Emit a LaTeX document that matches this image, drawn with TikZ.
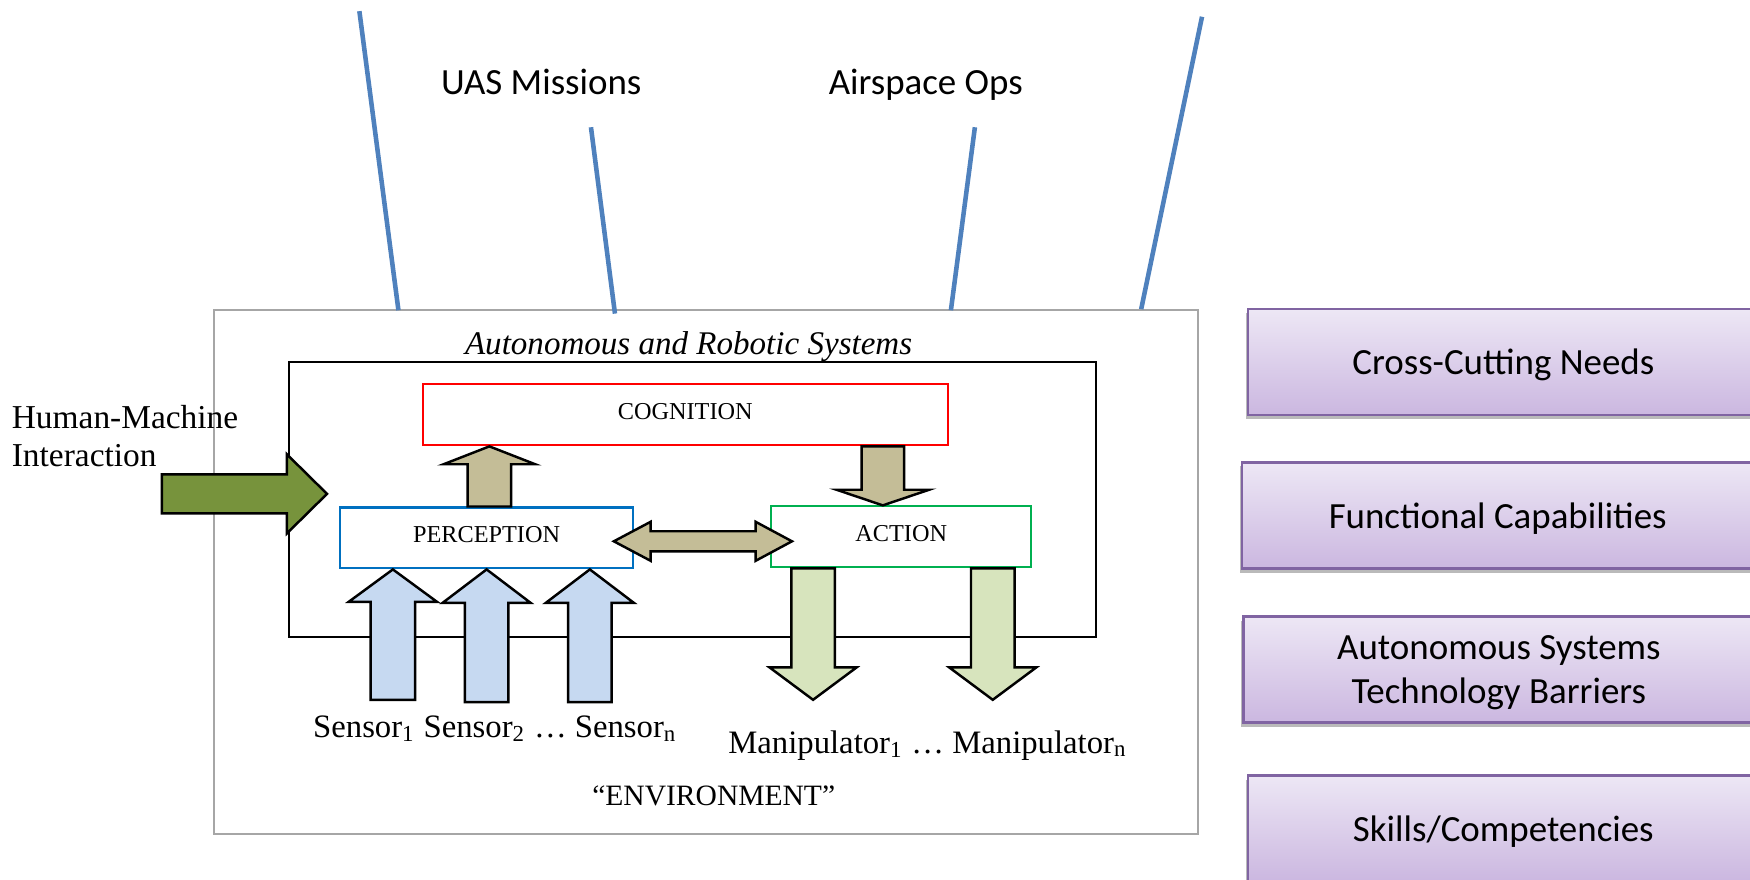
\documentclass[tikz,border=0pt]{standalone}
\usepackage{fontspec}
\setmainfont{Liberation Serif}
\newfontfamily\calib{Carlito}
\usetikzlibrary{calc,shadows}
\definecolor{bline}{HTML}{4F81BD}
\definecolor{outergray}{HTML}{A6A6A6}
\definecolor{percblue}{HTML}{0070C0}
\definecolor{actgreen}{HTML}{00B050}
\definecolor{tan}{HTML}{C4BD97}
\definecolor{hmigreen}{HTML}{77933C}
\definecolor{sensblue}{HTML}{C6D9F1}
\definecolor{manipgreen}{HTML}{D7E4BD}
\definecolor{purpborder}{HTML}{8064A2}
\definecolor{purptop}{HTML}{EDE7F5}
\definecolor{purpbot}{HTML}{CBB7E0}
\def\U{0.011161cm}
\newcommand{\vblk}[6]{% fill, base, tip, shaft hw, head hw, head offset (tip to head base)
  \filldraw[blockarrow, fill=#1] ($(#2)+(-#4,0)$) -- ($(#3)+(-#4,#6)$) -- ($(#3)+(-#5,#6)$) -- (#3)
    -- ($(#3)+(#5,#6)$) -- ($(#3)+(#4,#6)$) -- ($(#2)+(#4,0)$) -- cycle;}
\begin{document}
\begin{tikzpicture}[x=0.011161cm, y=-0.011161cm,
  bluelink/.style={draw=bline, line width=1.3pt},
  framebox/.style={draw, inner sep=0pt, line width=0.6pt},
  stagebox/.style={draw, inner sep=0pt, line width=0.6pt, fill=white, text depth=1.9pt,
    font=\fontsize{6.9}{8}\selectfont},
  blockarrow/.style={draw=black, line width=0.7pt, line join=miter},
  toplabel/.style={font=\calib\fontsize{10.5}{12.4}\selectfont, inner sep=0pt, anchor=base},
  seriflabel/.style={font=\fontsize{9.3}{10.8}\selectfont, inner sep=0pt},
  purplebox/.style={draw=purpborder, line width=0.7pt, top color=purptop, bottom color=purpbot,
    minimum width=458*\U, minimum height=95*\U, inner sep=0pt, align=center, text depth=0pt,
    font=\calib\fontsize{10.5}{12.4}\selectfont,
    drop shadow={shadow xshift=-0.6pt, shadow yshift=-1.1pt, fill=black!45, opacity=0.6}}
]
\useasboundingbox (0,0) rectangle (1568,788);
\clip (0,0) rectangle (1568,788);

% outer environment box and inner system box
\node[framebox, draw=outergray, minimum width=881*\U, minimum height=469*\U] (outer) at (632.5,512.5) {};
\node[framebox, draw=black, minimum width=723*\U, minimum height=247*\U] (inner) at (620.5,447.5) {};

% blue lines (free ends)
\coordinate (l1a) at (322,10);   \coordinate (l1b) at (357,278);
\coordinate (l2a) at (529.5,114); \coordinate (l2b) at (551,281);
\coordinate (l3a) at (873.5,114); \coordinate (l3b) at (852,278);
\coordinate (l4a) at (1077,15);  \coordinate (l4b) at (1022.5,277);
\draw[bluelink] (l1a) -- (l1b);
\draw[bluelink] (l2a) -- (l2b);
\draw[bluelink] (l3a) -- (l3b);
\draw[bluelink] (l4a) -- (l4b);

\node[toplabel] (uas) at (485,84.5) {UAS Missions};
\node[toplabel] (airops) at (829.5,84.5) {Airspace Ops};

\node[font=\itshape\fontsize{9.4}{11}\selectfont, inner sep=0pt, anchor=base] (ars) at (617,317.5) {Autonomous and Robotic Systems};

% stage boxes
\node[stagebox, draw=red, minimum width=470*\U, minimum height=55*\U] (cog) at (614,371.5) {COGNITION};
\node[stagebox, draw=percblue, minimum width=262*\U, minimum height=54.5*\U] (perc) at (436,482) {PERCEPTION};
\node[stagebox, draw=actgreen, minimum width=233*\U, minimum height=54.5*\U] (act) at (807.5,481) {ACTION};

% perception -> cognition
\coordinate (pcbase) at (438.5,0 |- perc.north);
\coordinate (pctip) at (438.5,0 |- cog.south);
\vblk{tan}{pcbase}{pctip}{19.5}{41}{16}
% cognition -> action
\coordinate (cabase) at (791,0 |- cog.south);
\coordinate (catip) at (791,0 |- act.north);
\vblk{tan}{cabase}{catip}{19}{41.5}{-14}

% perception <-> action
\coordinate (dl) at (550,485);
\coordinate (dr) at (709.6,485);
\filldraw[blockarrow, fill=tan] (dl) -- ($(dl)+(33,-17.5)$) -- ($(dl)+(33,-9)$) -- ($(dr)+(-32.6,-9)$)
  -- ($(dr)+(-32.6,-17.5)$) -- (dr) -- ($(dr)+(-32.6,17.5)$) -- ($(dr)+(-32.6,9)$)
  -- ($(dl)+(33,9)$) -- ($(dl)+(33,17.5)$) -- cycle;

% sensors -> perception
\coordinate (s1b) at (352,627);   \coordinate (s1t) at (352,0 |- perc.south);
\coordinate (s2b) at (436,629);   \coordinate (s2t) at (436,0 |- perc.south);
\coordinate (s3b) at (528.5,629); \coordinate (s3t) at (528.5,0 |- perc.south);
\vblk{sensblue}{s1b}{s1t}{20}{39.5}{29}
\vblk{sensblue}{s2b}{s2t}{19.5}{39.5}{30}
\vblk{sensblue}{s3b}{s3t}{19.5}{39.5}{30}

% action -> manipulators
\coordinate (m1t) at (728.5,0 |- act.south); \coordinate (m1b) at (728.5,627);
\coordinate (m2t) at (889.5,0 |- act.south); \coordinate (m2b) at (889.5,627);
\vblk{manipgreen}{m1t}{m1b}{19.5}{39}{-29}
\vblk{manipgreen}{m2t}{m2b}{19.5}{39}{-29}

% human-machine interaction arrow
\coordinate (htail) at (145,442.5);
\coordinate (htip) at (293,442.5);
\filldraw[blockarrow, fill=hmigreen] ($(htail)+(0,-17.5)$) -- ($(htip)+(-36,-17.5)$) -- ($(htip)+(-36,-35.5)$)
  -- (htip) -- ($(htip)+(-36,35.5)$) -- ($(htip)+(-36,17.5)$) -- ($(htail)+(0,17.5)$) -- cycle;

\node[seriflabel, anchor=west, align=left, font=\fontsize{9.5}{10.9}\selectfont] (hmi) at (10,391) {Human-Machine\\Interaction};

\node[seriflabel, anchor=base west] (sens) at (280,661) {Sensor\textsubscript{1} Sensor\textsubscript{2} … Sensor\textsubscript{n}};
\node[seriflabel, anchor=base west] (manip) at (652,675) {Manipulator\textsubscript{1} … Manipulator\textsubscript{n}};
\node[seriflabel, anchor=base, font=\fontsize{8.4}{10}\selectfont] (env) at (639.5,722) {“ENVIRONMENT”};

% right-hand purple boxes
\node[purplebox] (need) at (1347,324.5) {Cross-Cutting Needs};
\node[purplebox] (func) at (1342,462) {Functional Capabilities};
\node[purplebox] (barr) at (1343,600) {Autonomous Systems\\Technology Barriers};
\node[purplebox] (skill) at (1347,742.5) {Skills/Competencies};
\end{tikzpicture}
\end{document}
